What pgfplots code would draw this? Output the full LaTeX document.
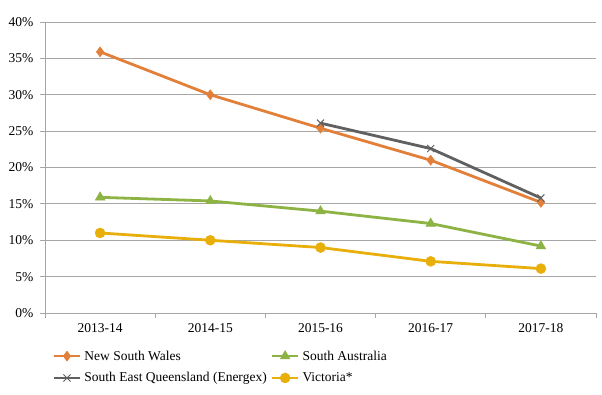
\documentclass[border=0pt]{standalone}
\usepackage{pgfplots}
\pgfplotsset{compat=1.18}
\usepackage{fontspec}
\setmainfont{Liberation Serif}
\definecolor{cnsw}{HTML}{E2803A}
\definecolor{csa}{HTML}{8DB344}
\definecolor{cseq}{HTML}{606060}
\definecolor{cvic}{HTML}{E8AE0A}
\definecolor{gridc}{HTML}{A6A6A6}
\begin{document}
\begin{tikzpicture}
\begin{axis}[
  at={(0,0)}, anchor=south west,
  scale only axis, width=551pt, height=291pt,
  xmin=-0.5, xmax=4.5, ymin=0, ymax=40,
  axis lines=left, axis line style={gridc, line width=0.8pt, -},
  font=\fontsize{13.5}{16}\selectfont,
  xtick={-0.5,0.5,1.5,2.5,3.5,4.5}, xticklabels={},
  extra x ticks={0,1,2,3,4},
  extra x tick labels={2013-14,2014-15,2015-16,2016-17,2017-18},
  extra x tick style={major tick length=0pt},
  ytick={0,5,10,15,20,25,30,35,40},
  yticklabels={0\%,5\%,10\%,15\%,20\%,25\%,30\%,35\%,40\%},
  tick align=outside, major tick length=5pt,
  tick style={gridc, line width=0.8pt},
  ymajorgrids, grid style={gridc, line width=0.8pt},
  xticklabel style={yshift=-7pt},
  yticklabel style={xshift=-3pt},
  legend columns=2,
  legend style={at={(0.008,-0.115)}, anchor=north west, draw=none, fill=none,
    font=\fontsize{13.5}{16}\selectfont, column sep=1pt, row sep=7pt,
    /tikz/every even column/.append style={column sep=2pt}},
  legend cell align=left,
  legend image code/.code={\draw[mark repeat=2,mark phase=2] plot coordinates {(0pt,0pt)(13pt,0pt)(26pt,0pt)};},
]
\addplot[cnsw, line width=2.8pt, mark=diamond*, mark size=5pt, mark options={fill=cnsw, line width=0.5pt}]
  coordinates {(0,35.9) (1,30.0) (2,25.4) (3,21.0) (4,15.2)};
\addlegendentry{New South Wales}
\addplot[csa, line width=2.8pt, mark=triangle*, mark size=5.5pt, mark options={fill=csa, line width=0.5pt}]
  coordinates {(0,15.9) (1,15.4) (2,14.0) (3,12.3) (4,9.2)};
\addlegendentry{South Australia}
\addplot[cseq, line width=2.8pt, mark=x, mark size=5pt, mark options={line width=1pt}]
  coordinates {(2,26.1) (3,22.6) (4,15.8)};
\addlegendentry{South East Queensland (Energex)}
\addplot[cvic, line width=2.8pt, mark=*, mark size=5pt, mark options={fill=cvic, line width=0.5pt}]
  coordinates {(0,11.0) (1,10.0) (2,9.0) (3,7.1) (4,6.1)};
\addlegendentry{Victoria*}
\end{axis}
\path (-45pt,-82pt) rectangle (557pt,313pt);
\end{tikzpicture}
\end{document}
